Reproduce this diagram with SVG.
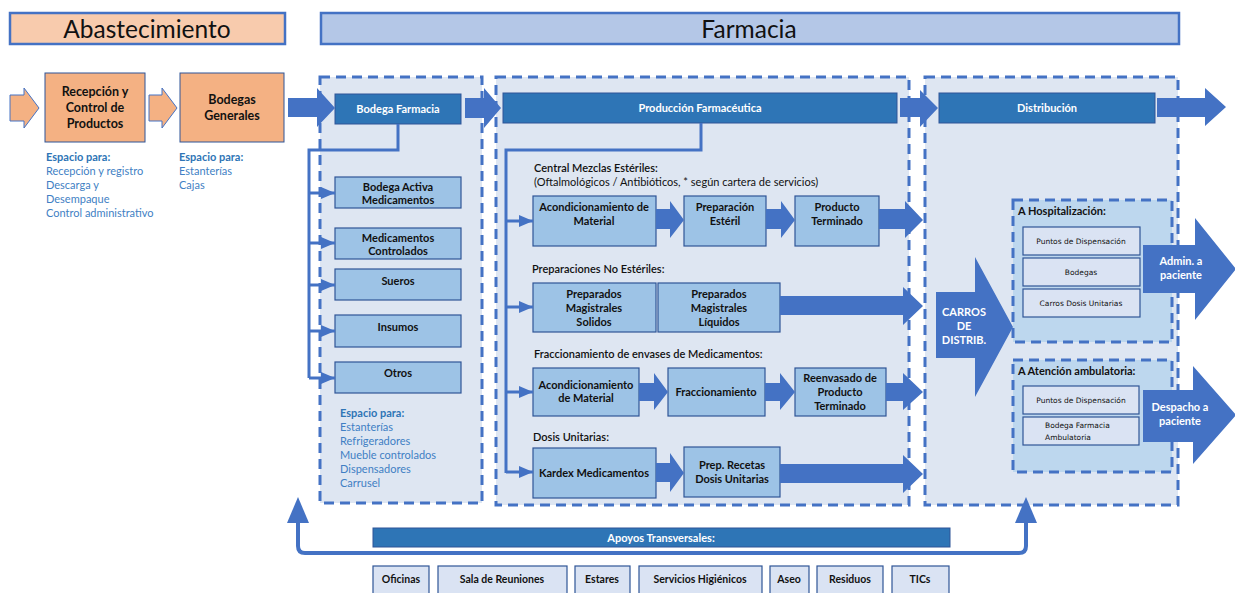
<svg xmlns="http://www.w3.org/2000/svg" width="1235" height="593" viewBox="0 0 1235 593">
<defs>
<style>
text{font-family:Lato,"Liberation Sans",sans-serif;}
.hdr{font-size:24.5px;fill:#111;text-anchor:middle;}
.bx{font-size:11px;font-weight:bold;fill:#111;text-anchor:middle;}
.bxl{font-size:12.5px;font-weight:bold;fill:#111;text-anchor:middle;}
.wt{font-size:11px;font-weight:bold;fill:#fff;text-anchor:middle;}
.sec{font-size:11px;font-weight:600;fill:#111;}
.sub{font-size:11px;fill:#111;}
.ep{font-size:11px;font-weight:bold;fill:#2E75B6;}
.el{font-size:11px;fill:#3F7FC4;}
.sm{font-family:"DejaVu Sans",sans-serif;font-size:7.5px;fill:#111;text-anchor:middle;}
.bt{font-size:10.5px;font-weight:bold;fill:#111;text-anchor:middle;}
.peach{fill:#F4B183;stroke:#2F5597;stroke-width:1;}
.cont{fill:#DEE6F2;stroke:#4472C4;stroke-width:3;stroke-dasharray:10 6;}
.subc{fill:#BDD7EE;stroke:#4472C4;stroke-width:3;stroke-dasharray:10 6;}
.dark{fill:#2E75B6;stroke:#2F5597;stroke-width:1;}
.lb{fill:#9DC3E6;stroke:#2F5597;stroke-width:1.2;}
.pl{fill:#DAE3F3;stroke:#2F5597;stroke-width:1.2;}
.arr{fill:#4472C4;}
.ln{fill:none;stroke:#4472C4;stroke-width:3;}
</style>
<marker id="ah" markerUnits="userSpaceOnUse" markerWidth="14" markerHeight="12" refX="14" refY="6" orient="auto">
<path d="M0,0 L14,6 L0,12 z" fill="#4472C4"/>
</marker>
</defs>
<rect width="1235" height="593" fill="#fff"/>

<g id="hdr-abastecimiento">
<rect x="10" y="13" width="275" height="31" fill="#F8CBAD" stroke="#4472C4" stroke-width="2.5"/>
<text class="hdr" x="147" y="37.5">Abastecimiento</text>
</g>
<g id="hdr-farmacia">
<rect x="321" y="13" width="858" height="31" fill="#B4C7E7" stroke="#4472C4" stroke-width="2.5"/>
<text class="hdr" x="749" y="37.5">Farmacia</text>
</g>

<!-- containers -->
<g id="cont-bodega"><rect class="cont" x="320" y="77" width="162" height="426"/></g>
<g id="cont-produccion"><rect class="cont" x="496" y="77" width="413" height="428"/></g>
<g id="cont-distribucion"><rect class="cont" x="925" y="77" width="253" height="428"/></g>
<g id="cont-hosp"><rect class="subc" x="1013" y="200" width="159" height="142"/>
<text class="bx" x="1018" y="215" style="text-anchor:start">A Hospitalización:</text></g>
<g id="cont-amb"><rect class="subc" x="1013" y="360" width="159" height="112"/>
<text class="bx" x="1018" y="375" style="text-anchor:start">A Atención ambulatoria:</text></g>

<!-- abastecimiento nodes -->
<g id="recepcion">
<rect class="peach" x="45" y="73" width="100" height="69"/>
<text class="bxl" x="95" y="96">Recepción y</text>
<text class="bxl" x="95" y="112">Control  de</text>
<text class="bxl" x="95" y="128">Productos</text>
</g>
<g id="bodegas-generales">
<rect class="peach" x="180" y="73" width="104" height="69"/>
<text class="bxl" x="232" y="104">Bodegas</text>
<text class="bxl" x="232" y="120">Generales</text>
</g>
<g id="espacio-recepcion">
<text class="ep" x="46" y="161">Espacio para:</text>
<text class="el" x="46" y="175">Recepción y registro</text>
<text class="el" x="46" y="189">Descarga y</text>
<text class="el" x="46" y="203">Desempaque</text>
<text class="el" x="46" y="217">Control administrativo</text>
</g>
<g id="espacio-bodegas">
<text class="ep" x="179" y="161">Espacio para:</text>
<text class="el" x="179" y="175">Estanterías</text>
<text class="el" x="179" y="189">Cajas</text>
</g>

<!-- bodega farmacia -->
<g id="bodega-farmacia"><rect class="dark" x="335" y="94" width="126" height="30"/><text class="wt" x="398" y="113">Bodega Farmacia</text></g>
<g id="bodega-activa"><rect class="lb" x="335" y="177" width="126" height="31"/><text class="bx" x="398" y="191">Bodega Activa</text><text class="bx" x="398" y="204">Medicamentos</text></g>
<g id="med-controlados"><rect class="lb" x="335" y="228" width="126" height="31"/><text class="bx" x="398" y="242">Medicamentos</text><text class="bx" x="398" y="255">Controlados</text></g>
<g id="sueros"><rect class="lb" x="335" y="269" width="126" height="31"/><text class="bx" x="398" y="285">Sueros</text></g>
<g id="insumos"><rect class="lb" x="335" y="315" width="126" height="32"/><text class="bx" x="398" y="331">Insumos</text></g>
<g id="otros"><rect class="lb" x="335" y="362" width="126" height="31"/><text class="bx" x="398" y="377">Otros</text></g>
<g id="espacio-bodega-farmacia">
<text class="ep" x="340" y="417">Espacio para:</text>
<text class="el" x="340" y="431">Estanterías</text>
<text class="el" x="340" y="445">Refrigeradores</text>
<text class="el" x="340" y="459">Mueble controlados</text>
<text class="el" x="340" y="473">Dispensadores</text>
<text class="el" x="340" y="487">Carrusel</text>
</g>

<!-- produccion -->
<g id="produccion"><rect class="dark" x="503" y="93" width="394" height="30"/><text class="wt" x="700" y="112">Producción Farmacéutica</text></g>
<g id="sec-cme">
<text class="sec" x="534" y="172">Central Mezclas Estériles:</text>
<text class="sub" x="534" y="186">(Oftalmológicos / Antibióticos, * según cartera de servicios)</text>
</g>
<g id="acond1"><rect class="lb" x="533" y="196" width="123" height="50"/><text class="bx" x="594" y="211">Acondicionamiento de</text><text class="bx" x="594" y="225">Material</text></g>
<g id="prep-esteril"><rect class="lb" x="684" y="196" width="82" height="50"/><text class="bx" x="725" y="211">Preparación</text><text class="bx" x="725" y="225">Estéril</text></g>
<g id="prod-term"><rect class="lb" x="795" y="196" width="84" height="50"/><text class="bx" x="837" y="211">Producto</text><text class="bx" x="837" y="225">Terminado</text></g>

<g id="sec-noest"><text class="sec" x="532" y="273">Preparaciones No Estériles:</text></g>
<g id="pm-solidos"><rect class="lb" x="533" y="283" width="123" height="49"/><text class="bx" x="594" y="298">Preparados</text><text class="bx" x="594" y="312">Magistrales</text><text class="bx" x="594" y="326">Solidos</text></g>
<g id="pm-liquidos"><rect class="lb" x="658" y="283" width="122" height="49"/><text class="bx" x="719" y="298">Preparados</text><text class="bx" x="719" y="312">Magistrales</text><text class="bx" x="719" y="326">Líquidos</text></g>

<g id="sec-fracc"><text class="sec" x="534" y="358">Fraccionamiento de envases de Medicamentos:</text></g>
<g id="acond2"><rect class="lb" x="533" y="368" width="106" height="48"/><text class="bx" x="586" y="389">Acondicionamiento</text><text class="bx" x="586" y="402">de Material</text></g>
<g id="fraccionamiento"><rect class="lb" x="668" y="368" width="97" height="48"/><text class="bx" x="716" y="396">Fraccionamiento</text></g>
<g id="reenvasado"><rect class="lb" x="795" y="368" width="91" height="48"/><text class="bx" x="840" y="382">Reenvasado de</text><text class="bx" x="840" y="396">Producto</text><text class="bx" x="840" y="410">Terminado</text></g>

<g id="sec-dosis"><text class="sec" x="533" y="441">Dosis Unitarias:</text></g>
<g id="kardex"><rect class="lb" x="533" y="448" width="123" height="50"/><text class="bx" x="594" y="477">Kardex Medicamentos</text></g>
<g id="prep-recetas"><rect class="lb" x="684" y="447" width="96" height="50"/><text class="bx" x="732" y="469">Prep. Recetas</text><text class="bx" x="732" y="483">Dosis Unitarias</text></g>

<!-- distribucion -->
<g id="distribucion"><rect class="dark" x="939" y="93" width="216" height="30"/><text class="wt" x="1047" y="112">Distribución</text></g>
<g id="carros">
<polygon class="arr" points="936,292 975,292 975,257 1013,327 975,397 975,358 936,358"/>
<text class="wt" x="964" y="316">CARROS</text>
<text class="wt" x="964" y="330">DE</text>
<text class="wt" x="964" y="344">DISTRIB.</text>
</g>
<g id="h-puntos"><rect class="pl" x="1023" y="227" width="117" height="28"/><text class="sm" x="1081" y="244">Puntos de Dispensación</text></g>
<g id="h-bodegas"><rect class="pl" x="1023" y="258" width="117" height="28"/><text class="sm" x="1081" y="275">Bodegas</text></g>
<g id="h-carros"><rect class="pl" x="1023" y="289" width="117" height="28"/><text class="sm" x="1081" y="306">Carros Dosis Unitarias</text></g>
<g id="admin">
<polygon class="arr" points="1143,245 1195,245 1195,218 1236,269 1195,320 1195,293 1143,293"/>
<text class="wt" x="1181" y="265">Admin. a</text>
<text class="wt" x="1181" y="279">paciente</text>
</g>
<g id="a-puntos"><rect class="pl" x="1023" y="386" width="116" height="28"/><text class="sm" x="1081" y="403">Puntos de Dispensación</text></g>
<g id="a-bodega"><rect class="pl" x="1023" y="417" width="116" height="28"/><text class="sm" x="1045" y="428" style="text-anchor:start">Bodega Farmacia</text><text class="sm" x="1045" y="440" style="text-anchor:start">Ambulatoria</text></g>
<g id="despacho">
<polygon class="arr" points="1143,390 1193,390 1193,366 1236,415 1193,464 1193,442 1143,442"/>
<text class="wt" x="1180" y="411">Despacho a</text>
<text class="wt" x="1180" y="425">paciente</text>
</g>

<!-- apoyos -->
<g id="apoyos"><rect class="dark" x="373" y="528" width="577" height="19"/><text class="wt" x="661" y="541.5">Apoyos Transversales:</text></g>
<g id="oficinas"><rect class="pl" x="373" y="566" width="56" height="30"/><text class="bt" x="401" y="583">Oficinas</text></g>
<g id="sala"><rect class="pl" x="438" y="566" width="129" height="30"/><text class="bt" x="502" y="583">Sala de Reuniones</text></g>
<g id="estares"><rect class="pl" x="575" y="566" width="55" height="30"/><text class="bt" x="602" y="583">Estares</text></g>
<g id="servicios"><rect class="pl" x="639" y="566" width="123" height="30"/><text class="bt" x="700" y="583">Servicios Higiénicos</text></g>
<g id="aseo"><rect class="pl" x="770" y="566" width="39" height="30"/><text class="bt" x="789" y="583">Aseo</text></g>
<g id="residuos"><rect class="pl" x="817" y="566" width="66" height="30"/><text class="bt" x="850" y="583">Residuos</text></g>
<g id="tics"><rect class="pl" x="892" y="566" width="57" height="30"/><text class="bt" x="920" y="583">TICs</text></g>

<!-- connectors -->
<g id="connectors">
<polygon points="10,95 24,95 24,88 39,108 24,128 24,121 10,121" fill="#F4B183" stroke="#4472C4" stroke-width="1"/>
<polygon points="149,95 162,95 162,88 177,108 162,128 162,121 149,121" fill="#F4B183" stroke="#4472C4" stroke-width="1"/>
<polygon class="arr" points="288,98 317,98 317,88 335,108 317,127 317,117 288,117"/>
<polygon class="arr" points="465,98 484,98 484,88 501,108 484,128 484,118 465,118"/>
<polygon class="arr" points="900,98 920,98 920,90 938,108 920,127 920,117 900,117"/>
<polygon class="arr" points="1157,98 1205,98 1205,88 1226,107 1205,126 1205,117 1157,117"/>

<path class="ln" d="M398,124 V150 H309 V378"/>
<path class="ln" d="M309,193 H335" marker-end="url(#ah)"/>
<path class="ln" d="M309,243 H335" marker-end="url(#ah)"/>
<path class="ln" d="M309,285 H335" marker-end="url(#ah)"/>
<path class="ln" d="M309,331 H335" marker-end="url(#ah)"/>
<path class="ln" d="M309,378 H335" marker-end="url(#ah)"/>

<path class="ln" d="M701,123 V150 H506 V473"/>
<path class="ln" d="M506,221 H533" marker-end="url(#ah)"/>
<path class="ln" d="M506,307 H533" marker-end="url(#ah)"/>
<path class="ln" d="M506,392 H533" marker-end="url(#ah)"/>
<path class="ln" d="M506,472 H533" marker-end="url(#ah)"/>

<polygon class="arr" points="656,209 670,209 670,201 684,220 670,238 670,229 656,229"/>
<polygon class="arr" points="766,209 781,209 781,201 795,220 781,238 781,229 766,229"/>
<polygon class="arr" points="879,209 905,209 905,201 923,220 905,238 905,229 879,229"/>
<polygon class="arr" points="780,296 903,296 903,287 923,306 903,325 903,315 780,315"/>
<polygon class="arr" points="639,383 654,383 654,373 668,392 654,410 654,401 639,401"/>
<polygon class="arr" points="765,383 780,383 780,373 795,392 780,410 780,401 765,401"/>
<polygon class="arr" points="886,383 903,383 903,373 923,392 903,410 903,401 886,401"/>
<polygon class="arr" points="656,463 670,463 670,453 684,473 670,492 670,482 656,482"/>
<polygon class="arr" points="780,464 903,464 903,455 923,474 903,493 903,483 780,483"/>

<path d="M298,520 V546 Q298,553 305,553 H1019 Q1026,553 1026,546 V520" fill="none" stroke="#4472C4" stroke-width="4"/>
<polygon class="arr" points="287,523 298,497 309,523"/>
<polygon class="arr" points="1015,523 1026,497 1037,523"/>
</g>
</svg>
